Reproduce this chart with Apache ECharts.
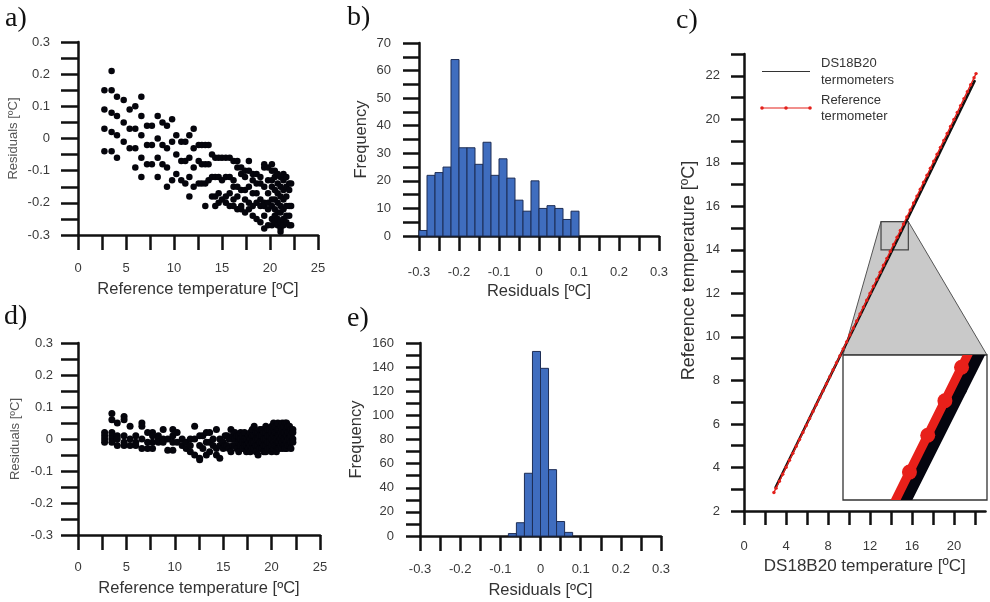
<!DOCTYPE html>
<html><head><meta charset="utf-8">
<script src="https://cdn.jsdelivr.net/npm/echarts@6/dist/echarts.min.js"></script>
<style>html,body{margin:0;padding:0;background:#fff}#c{width:990px;height:602px}</style>
</head><body><div id="c"></div>
<script>
// ---------------- DATA ----------------
const residTicks = [-0.3,-0.25,-0.2,-0.15,-0.1,-0.05,0,0.05,0.1,0.15,0.2,0.25,0.3];
const residLabels = [-0.3,-0.2,-0.1,0,0.1,0.2,0.3];
const tempTicks = [0,2.5,5,7.5,10,12.5,15,17.5,20,22.5,25];
const tempLabels = [0,5,10,15,20,25];
const freqBTicks = [0,5,10,15,20,25,30,35,40,45,50,55,60,65,70];
const freqBLabels = [0,10,20,30,40,50,60,70];
const freqETicks = [0,10,20,30,40,50,60,70,80,90,100,110,120,130,140,150,160];
const freqELabels = [0,20,40,60,80,100,120,140,160];
const dsTicks = [0,2,4,6,8,10,12,14,16,18,20,22];
const dsLabels = [0,4,8,12,16,20];
const refTicks = [2,3,4,5,6,7,8,9,10,11,12,13,14,15,16,17,18,19,20,21,22,23];
const refLabels = [2,4,6,8,10,12,14,16,18,20,22];

// histogram b (raw residuals), bins of 0.02
const binLowsB = [-0.30,-0.28,-0.26,-0.24,-0.22,-0.20,-0.18,-0.16,-0.14,-0.12,-0.10,-0.08,-0.06,-0.04,-0.02,0.00,0.02,0.04,0.06,0.08];
const countsB  = [2,22,23,25,64,32,32,26,34,22,28,21,13,9,20,10,11,10,6,9];
// histogram e (corrected residuals)
const binLowsE = [-0.08,-0.06,-0.04,-0.02,0.00,0.02,0.04,0.06];
const countsE  = [2,11,52,153,139,55,12,3];
const binWidth = 0.02;

// scatter a: [reference temperature, residual]
const residRaw = [
[2.75,0.15],[2.75,0.09],[2.75,0.03],[2.75,-0.04],
[3.5,0.21],[3.5,0.15],[3.5,0.08],[3.5,0.02],[3.5,-0.04],
[4.06,0.13],[4.06,0.07],[4.06,0.01],[4.06,-0.06],
[4.76,0.12],[4.76,0.05],[4.76,-0.01],
[5.38,0.09],[5.38,0.03],[5.38,-0.03],
[5.97,0.10],[5.97,0.03],[5.97,-0.03],[5.97,-0.09],
[6.6,0.13],[6.6,0.07],[6.6,0.01],[6.6,-0.06],[6.6,-0.12],
[7.19,0.04],[7.19,-0.02],[7.19,-0.08],
[7.7,0.04],[7.7,-0.02],[7.7,-0.08],
[8.3,0.07],[8.3,0.00],[8.3,-0.06],[8.3,-0.12],
[8.8,0.05],[8.8,-0.02],[8.8,-0.08],
[9.27,0.04],[9.27,-0.03],[9.27,-0.09],[9.27,-0.15],
[9.8,0.06],[9.8,-0.01],[9.8,-0.13],
[10.24,0.01],[10.24,-0.05],[10.24,-0.11],
[10.76,-0.01],[10.76,-0.07],[10.76,-0.13],
[11.18,-0.01],[11.18,-0.07],[11.18,-0.14],
[11.6,0.01],[11.6,-0.06],[11.6,-0.12],[11.6,-0.18],
[12.05,0.03],[12.05,-0.03],[12.05,-0.09],[12.05,-0.15],
[12.57,-0.02],[12.57,-0.07],[12.57,-0.14],
[12.9,-0.02],[12.9,-0.08],[12.9,-0.14],
[13.26,-0.02],[13.26,-0.08],[13.26,-0.14],[13.26,-0.21],
[13.6,-0.02],[13.6,-0.08],[13.6,-0.13],
[13.96,-0.05],[13.96,-0.12],[13.96,-0.18],
[14.3,-0.06],[14.3,-0.12],[14.3,-0.18],[14.3,-0.21],
[14.65,-0.06],[14.65,-0.12],[14.65,-0.17],[14.65,-0.20],
[15.0,-0.06],[15.0,-0.13],[15.0,-0.19],
[15.4,-0.06],[15.4,-0.12],[15.4,-0.18],[15.4,-0.20],
[15.8,-0.06],[15.8,-0.12],[15.8,-0.17],[15.8,-0.21],
[16.2,-0.07],[16.2,-0.13],[16.2,-0.15],[16.2,-0.19],[16.2,-0.21],
[16.6,-0.07],[16.6,-0.09],[16.6,-0.15],[16.6,-0.18],[16.6,-0.22],
[17.0,-0.09],[17.0,-0.11],[17.0,-0.16],[17.0,-0.21],[17.0,-0.22],
[17.4,-0.10],[17.4,-0.12],[17.4,-0.16],[17.4,-0.19],[17.4,-0.23],
[17.8,-0.07],[17.8,-0.10],[17.8,-0.15],[17.8,-0.20],[17.8,-0.22],
[18.2,-0.11],[18.2,-0.13],[18.2,-0.17],[18.2,-0.21],[18.2,-0.24],
[18.6,-0.11],[18.6,-0.14],[18.6,-0.17],[18.6,-0.20],[18.6,-0.25],
[19.0,-0.12],[19.0,-0.14],[19.0,-0.19],[19.0,-0.21],[19.0,-0.26],
[19.4,-0.08],[19.4,-0.09],[19.4,-0.15],[19.4,-0.20],[19.4,-0.21],[19.4,-0.24],[19.4,-0.28],
[19.8,-0.09],[19.8,-0.13],[19.8,-0.17],[19.8,-0.20],[19.8,-0.22],[19.8,-0.27],
[20.2,-0.08],[20.2,-0.10],[20.2,-0.13],[20.2,-0.15],[20.2,-0.19],[20.2,-0.21],[20.2,-0.25],[20.2,-0.27],
[20.5,-0.10],[20.5,-0.12],[20.5,-0.16],[20.5,-0.19],[20.5,-0.22],[20.5,-0.24],[20.5,-0.26],
[20.8,-0.11],[20.8,-0.14],[20.8,-0.17],[20.8,-0.20],[20.8,-0.23],[20.8,-0.25],[20.8,-0.27],
[21.1,-0.12],[21.1,-0.15],[21.1,-0.18],[21.1,-0.21],[21.1,-0.23],[21.1,-0.26],[21.1,-0.28],[21.1,-0.29],
[21.4,-0.11],[21.4,-0.13],[21.4,-0.16],[21.4,-0.19],[21.4,-0.22],[21.4,-0.25],[21.4,-0.27],
[21.7,-0.12],[21.7,-0.15],[21.7,-0.18],[21.7,-0.21],[21.7,-0.24],[21.7,-0.26],
[22.0,-0.14],[22.0,-0.16],[22.0,-0.21],[22.0,-0.24],[22.0,-0.27],
[22.2,-0.14],[22.2,-0.21],[22.2,-0.27]
];

// scatter d: [reference temperature, corrected residual]
const residCorr = [
[2.75,0.02],[2.75,0.01],[2.75,0.00],[2.75,-0.01],
[3.5,0.08],[3.5,0.06],[3.5,0.02],[3.5,0.01],[3.5,0.00],[3.5,-0.01],
[4.06,0.05],[4.06,0.01],[4.06,0.00],[4.06,-0.02],
[4.76,0.07],[4.76,0.06],[4.76,0.01],[4.76,-0.01],[4.76,-0.02],
[5.38,0.04],[5.38,0.00],[5.38,-0.02],
[5.97,0.01],[5.97,-0.01],[5.97,-0.02],
[6.6,0.05],[6.6,0.04],[6.6,0.00],[6.6,-0.03],
[7.19,0.02],[7.19,-0.01],[7.19,-0.03],
[7.7,0.02],[7.7,0.01],[7.7,-0.01],[7.7,-0.03],
[8.3,0.01],[8.3,0.00],[8.3,-0.01],
[8.8,0.03],[8.8,0.00],[8.8,-0.01],
[9.27,0.00],[9.27,-0.035],
[9.8,0.03],[9.8,0.01],[9.8,-0.01],[9.8,-0.035],
[10.24,0.02],[10.24,-0.01],
[10.76,0.00],[10.76,-0.02],
[11.18,-0.01],[11.18,-0.03],
[11.6,0.00],[11.6,-0.02],[11.6,-0.04],
[12.05,0.04],[12.05,0.00],[12.05,-0.05],
[12.57,0.01],[12.57,-0.02],[12.57,-0.06],[12.57,-0.065],
[12.9,0.01],[12.9,-0.03],
[13.26,0.02],[13.26,-0.01],[13.26,-0.05],
[13.6,0.02],[13.6,-0.01],[13.6,-0.04],
[13.96,0.00],[13.96,-0.02],
[14.3,0.03],[14.3,-0.03],[14.3,-0.05],
[14.65,0.00],[14.65,-0.02],[14.65,-0.06],
[15.0,-0.01],[15.0,-0.03],[15.2,0.01],[15.2,-0.02],
[15.4,0.01],[15.4,-0.02],[15.6,0.00],[15.6,-0.03],
[15.8,0.03],[15.8,0.00],[15.8,-0.04],[16.0,0.01],[16.0,-0.02],
[16.2,0.02],[16.2,0.00],[16.2,-0.02],[16.4,0.01],[16.4,-0.03],
[16.6,0.01],[16.6,-0.01],[16.6,-0.04],[16.8,0.02],[16.8,0.00],[16.8,-0.02],
[17.0,0.01],[17.0,-0.01],[17.0,-0.03],[17.2,0.02],[17.2,0.00],[17.2,-0.02],
[17.4,0.00],[17.4,-0.02],[17.4,-0.04],[17.6,0.01],[17.6,-0.01],[17.6,-0.03],
[17.8,0.02],[17.8,0.00],[17.8,-0.02],[17.8,-0.04],[18.0,0.03],[18.0,0.01],[18.0,-0.01],[18.0,-0.03],
[18.2,0.04],[18.2,0.01],[18.2,-0.01],[18.2,-0.03],[18.4,0.02],[18.4,0.00],[18.4,-0.02],[18.4,-0.04],
[18.6,0.02],[18.6,0.00],[18.6,-0.02],[18.6,-0.05],[18.8,0.03],[18.8,0.01],[18.8,-0.01],[18.8,-0.03],
[19.0,0.03],[19.0,0.01],[19.0,-0.01],[19.0,-0.03],[19.2,0.02],[19.2,0.00],[19.2,-0.02],[19.2,-0.04],
[19.4,0.04],[19.4,0.02],[19.4,0.00],[19.4,-0.02],[19.4,-0.04],[19.6,0.03],[19.6,0.01],[19.6,-0.01],[19.6,-0.03],
[19.8,0.03],[19.8,0.01],[19.8,-0.01],[19.8,-0.03],[20.0,0.04],[20.0,0.02],[20.0,0.00],[20.0,-0.02],[20.0,-0.04],
[20.2,0.05],[20.2,0.03],[20.2,0.01],[20.2,-0.01],[20.2,-0.03],[20.35,0.04],[20.35,0.02],[20.35,0.00],[20.35,-0.02],
[20.5,0.04],[20.5,0.02],[20.5,0.00],[20.5,-0.02],[20.5,-0.04],[20.65,0.05],[20.65,0.03],[20.65,0.01],[20.65,-0.01],[20.65,-0.03],
[20.8,0.03],[20.8,0.01],[20.8,-0.01],[20.8,-0.03],[20.95,0.04],[20.95,0.02],[20.95,0.00],[20.95,-0.02],
[21.1,0.05],[21.1,0.03],[21.1,0.01],[21.1,-0.01],[21.1,-0.03],[21.25,0.04],[21.25,0.02],[21.25,0.00],[21.25,-0.02],
[21.4,0.05],[21.4,0.02],[21.4,0.00],[21.4,-0.02],[21.4,-0.03],[21.55,0.05],[21.55,0.03],[21.55,0.01],[21.55,-0.01],[21.55,-0.03],
[21.7,0.04],[21.7,0.02],[21.7,0.00],[21.7,-0.02],[21.85,0.04],[21.85,0.02],[21.85,0.00],[21.85,-0.02],
[22.0,0.03],[22.0,0.01],[22.0,-0.01],[22.0,-0.03],
[22.2,0.03],[22.2,0.02],[22.2,0.00],[22.2,-0.01]
];

// panel c: reference thermometer readings (x = y = reference temperature)
const refTemps = [2.85,3.05,3.37,3.69,4.01,4.33,4.65,4.97,5.29,5.61,5.93,6.25,6.57,6.89,7.21,7.53,7.85,8.17,8.49,8.81,9.13,9.45,9.77,10.09,10.41,10.73,11.05,11.37,11.69,12.01,12.33,12.65,12.97,13.29,13.61,13.93,14.25,14.58,14.89,15.19,15.51,15.83,16.15,16.47,16.79,17.11,17.43,17.75,18.07,18.39,18.71,19.03,19.35,19.67,19.99,20.31,20.63,20.95,21.27,21.59,21.91,22.1];
// DS18B20 readings (x) versus reference temperature (y)
const dsRef  = [3.05,4.0,5.0,6.0,7.0,8.0,9.0,10.0,11.0,12.0,13.0,14.0,15.0,16.0,17.0,18.0,19.0,20.0,21.0,21.8];
const dsTemp = [2.98,3.94,4.96,5.97,6.99,8.01,9.03,10.05,11.07,12.08,13.11,14.13,15.14,16.15,17.16,18.17,19.18,20.19,21.2,22.0];
// zoomed window of panel c
const zoomX = [13.05, 15.65];
const zoomY = [14.0, 15.3];

// ---------------- CHART ----------------
const chart = echarts.init(document.getElementById('c'), null, {renderer: 'canvas'});
const FONT = 'Liberation Sans, Arial, sans-serif';
const AX = '#111';
const fmt = v => String(+(+v).toFixed(2));

function axis(dim, gi, min, max, ticks, labels, tickLen, margin, name, nameGap, nameSize, nameColor, namePad) {
  return {
    type: 'value', gridIndex: gi, min: min, max: max,
    position: dim === 'x' ? 'bottom' : 'left',
    axisLine: {show: true, onZero: false, lineStyle: {color: AX, width: 2.5}},
    axisTick: {show: true, inside: false, length: tickLen, customValues: ticks, lineStyle: {color: AX, width: 2.5}},
    axisLabel: {show: true, customValues: labels, margin: margin, formatter: fmt,
      color: '#3a3a3a', fontSize: 13, fontFamily: FONT},
    splitLine: {show: false},
    name: name, nameLocation: 'middle', nameGap: nameGap,
    nameTextStyle: {fontSize: nameSize, color: nameColor, fontFamily: FONT, padding: namePad || 0}
  };
}

const histItem = (fill, stroke) => function (params, api) {
  const p0 = api.coord([api.value(0), 0]);
  const p1 = api.coord([api.value(1), api.value(2)]);
  return {type: 'rect', shape: {x: p0[0], y: p1[1], width: p1[0] - p0[0], height: p0[1] - p1[1]},
    style: {fill: fill, stroke: stroke, lineWidth: 1}};
};
const histData = (lows, counts) => lows.map((lo, i) => [lo, lo + binWidth, counts[i]]);

// inset (zoomed) series: segments and dots, clipped exactly to the inset box
const segs = (xs, ys) => xs.slice(1).map((x, i) => [xs[i], ys[i], x, ys[i + 1]]);
const clipRect = params => ({type: 'rect', shape: {x: params.coordSys.x, y: params.coordSys.y, width: params.coordSys.width, height: params.coordSys.height}});
const segItem = (color, width) => function (params, api) {
  const a = api.coord([api.value(0), api.value(1)]);
  const b = api.coord([api.value(2), api.value(3)]);
  return {type: 'group', clipPath: clipRect(params), children: [
    {type: 'line', shape: {x1: a[0], y1: a[1], x2: b[0], y2: b[1]}, style: {stroke: color, lineWidth: width, lineCap: 'round'}}]};
};
const dotItem = (color, r) => function (params, api) {
  const p = api.coord([api.value(0), api.value(1)]);
  return {type: 'group', clipPath: clipRect(params), children: [
    {type: 'circle', shape: {cx: p[0], cy: p[1], r: r}, style: {fill: color}}]};
};

const option = {
  animation: false,
  backgroundColor: '#fff',
  grid: [
    {left: 78, top: 42, width: 240, height: 193, containLabel: false, outerBoundsMode: 'none'},
    {left: 419, top: 43, width: 240, height: 193, containLabel: false, outerBoundsMode: 'none'},
    {left: 78, top: 343, width: 242, height: 192, containLabel: false, outerBoundsMode: 'none'},
    {left: 420, top: 343, width: 241, height: 193, containLabel: false, outerBoundsMode: 'none'},
    {left: 744, top: 54, width: 241.5, height: 457, containLabel: false, outerBoundsMode: 'none'},
    {left: 843, top: 355, width: 144, height: 145, containLabel: false, outerBoundsMode: 'none',
      show: true, backgroundColor: '#fff', borderColor: '#333', borderWidth: 1.3, z: 3}
  ],
  xAxis: [
    axis('x', 0, 0, 25, tempTicks, tempLabels, 15, 27, 'Reference temperature [ºC]', 46, 16.5, '#333'),
    axis('x', 1, -0.3, 0.3, residTicks, residLabels, 15, 30, 'Residuals [ºC]', 47, 16.5, '#333'),
    axis('x', 2, 0, 25, tempTicks, tempLabels, 15, 26, 'Reference temperature [ºC]', 45, 16.5, '#333'),
    axis('x', 3, -0.3, 0.3, residTicks, residLabels, 15, 27, 'Residuals [ºC]', 46, 16.5, '#333'),
    axis('x', 4, 0, 23, dsTicks, dsLabels, 14, 29, 'DS18B20 temperature [ºC]', 45, 17, '#333'),
    {type: 'value', gridIndex: 5, min: zoomX[0], max: zoomX[1], show: false, splitLine: {show: false}}
  ],
  yAxis: [
    axis('y', 0, -0.3, 0.3, residTicks, residLabels, 17, 28, 'Residuals [ºC]', 58, 13, '#555'),
    axis('y', 1, 0, 70, freqBTicks, freqBLabels, 16, 28, 'Frequency', 49, 16.5, '#333'),
    axis('y', 2, -0.3, 0.3, residTicks, residLabels, 17, 25, 'Residuals [ºC]', 56, 13, '#555'),
    axis('y', 3, 0, 160, freqETicks, freqELabels, 14, 26, 'Frequency', 55, 16.5, '#333'),
    axis('y', 4, 2, 23, refTicks, refLabels, 13, 24, 'Reference temperature [ºC]', 46, 18, '#333', [0, 0, 0, 24]),
    {type: 'value', gridIndex: 5, min: zoomY[0], max: zoomY[1], show: false, splitLine: {show: false}}
  ],
  series: [
    {type: 'scatter', xAxisIndex: 0, yAxisIndex: 0, data: residRaw, symbolSize: 6.5,
      itemStyle: {color: '#05050c', opacity: 1}},
    {type: 'custom', xAxisIndex: 1, yAxisIndex: 1, data: histData(binLowsB, countsB),
      renderItem: histItem('#3f6dbf', '#1d2d55'), encode: {x: [0, 1], y: 2}},
    {type: 'scatter', xAxisIndex: 2, yAxisIndex: 2, data: residCorr, symbolSize: 7,
      itemStyle: {color: '#05050c', opacity: 1}},
    {type: 'custom', xAxisIndex: 3, yAxisIndex: 3, data: histData(binLowsE, countsE),
      renderItem: histItem('#3f6dbf', '#1d2d55'), encode: {x: [0, 1], y: 2}},
    {type: 'line', xAxisIndex: 4, yAxisIndex: 4, z: 3, data: dsTemp.map((t, i) => [t, dsRef[i]]),
      showSymbol: false, lineStyle: {color: '#111', width: 2.6}},
    {type: 'line', xAxisIndex: 4, yAxisIndex: 4, z: 4, data: refTemps.map(t => [t, t]),
      symbol: 'circle', symbolSize: 3.4, showSymbol: true, itemStyle: {color: '#e3201b'},
      lineStyle: {color: '#e3201b', width: 1.4}},
    {type: 'custom', xAxisIndex: 5, yAxisIndex: 5, z: 5, data: segs(dsTemp, dsRef),
      renderItem: segItem('#05050f', 17), encode: {x: [0, 2], y: [1, 3]}},
    {type: 'custom', xAxisIndex: 5, yAxisIndex: 5, z: 6, data: segs(refTemps, refTemps),
      renderItem: segItem('#e8201a', 9), encode: {x: [0, 2], y: [1, 3]}},
    {type: 'custom', xAxisIndex: 5, yAxisIndex: 5, z: 7, data: refTemps.map(t => [t, t]),
      renderItem: dotItem('#e8201a', 7.5), encode: {x: 0, y: 1}}
  ]
};
chart.setOption(option);

// annotation graphics (panel letters, legend, zoom window) placed via the axes' own scales
const serif = 'Liberation Serif, DejaVu Serif, serif';
const letter = (t, x, y) => ({type: 'text', x: x, y: y, style: {text: t, fill: '#111', fontSize: 28, fontFamily: serif, textVerticalAlign: 'middle'}});
const tl = chart.convertToPixel({gridIndex: 4}, [zoomX[0], zoomY[1]]);
const br = chart.convertToPixel({gridIndex: 4}, [zoomX[1], zoomY[0]]);
const itl = chart.convertToPixel({gridIndex: 5}, [zoomX[0], zoomY[1]]);
const itr = chart.convertToPixel({gridIndex: 5}, [zoomX[1], zoomY[1]]);
const legText = (t, x, y) => ({type: 'text', x: x, y: y, style: {text: t, fill: '#333', fontSize: 13, fontFamily: FONT, textVerticalAlign: 'middle'}});
chart.setOption({
  graphic: [
    letter('a)', 5, 19), letter('b)', 347, 18), letter('c)', 676, 21), letter('d)', 4, 317), letter('e)', 347, 319),
    {type: 'polygon', z: 1, shape: {points: [[tl[0], tl[1]], [br[0], tl[1]], [itr[0], itr[1]], [itl[0], itl[1]]]},
      style: {fill: '#c9c9c9', stroke: '#555', lineWidth: 1}},
    {type: 'rect', z: 1, shape: {x: tl[0], y: tl[1], width: br[0] - tl[0], height: br[1] - tl[1]},
      style: {fill: 'rgba(0,0,0,0)', stroke: '#444', lineWidth: 1.2}},
    {type: 'line', shape: {x1: 762, y1: 71.5, x2: 810, y2: 71.5}, style: {stroke: '#333', lineWidth: 1.2}},
    legText('DS18B20', 821, 63), legText('termometers', 821, 80),
    {type: 'line', shape: {x1: 762, y1: 108, x2: 810, y2: 108}, style: {stroke: '#e3201b', lineWidth: 1.2}},
    {type: 'circle', shape: {cx: 762, cy: 108, r: 1.8}, style: {fill: '#e3201b'}},
    {type: 'circle', shape: {cx: 786, cy: 108, r: 1.8}, style: {fill: '#e3201b'}},
    {type: 'circle', shape: {cx: 810, cy: 108, r: 1.8}, style: {fill: '#e3201b'}},
    legText('Reference', 821, 100), legText('termometer', 821, 116)
  ]
});
</script></body></html>
